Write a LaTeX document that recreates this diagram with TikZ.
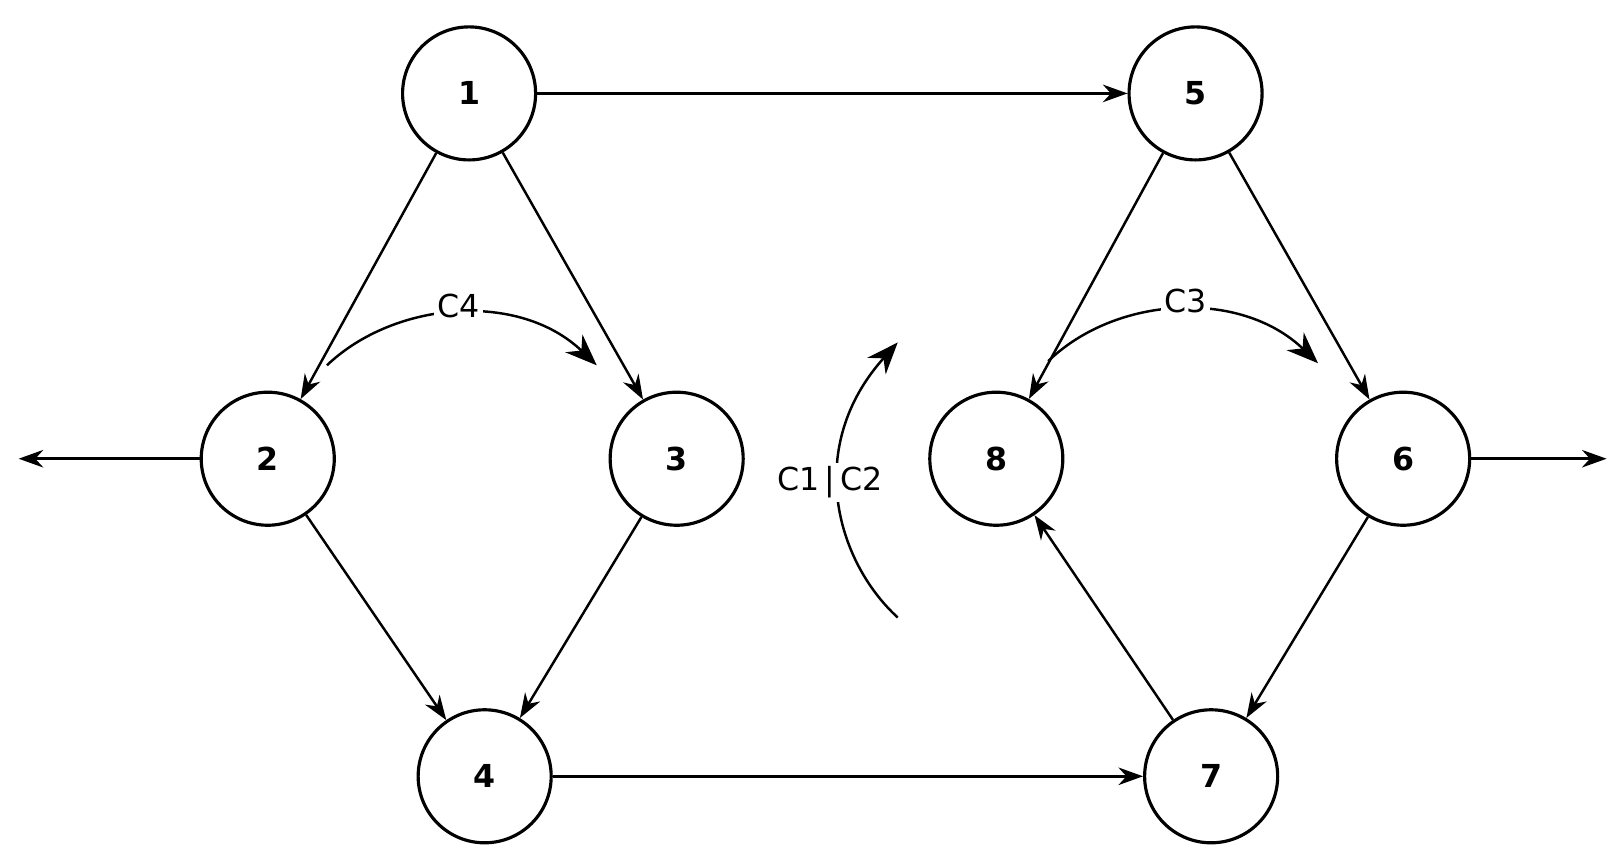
\documentclass[tikz,border=0pt]{standalone}
\usepackage{fontspec}
\setmainfont{DejaVu Sans}
\usetikzlibrary{arrows.meta}

\begin{document}
\begin{tikzpicture}[x=0.01038cm, y=-0.01038cm, font=\fontsize{9}{11}\selectfont,
    state/.style={draw, circle, line width=0.9pt, minimum size=1.33cm, inner sep=0pt, font=\fontsize{9}{11}\selectfont\bfseries},
    flow/.style={-{Stealth[length=7pt,width=5pt]}, line width=0.7pt},
    turn/.style={-{Stealth[length=9pt,width=7pt]}, line width=0.7pt}]
    \useasboundingbox (0,0) rectangle (1560,830);

    \node[state] (n1) at (452, 90) {1};
    \node[state] (n5) at (1152, 90) {5};
    \node[state] (n2) at (258, 442) {2};
    \node[state] (n3) at (652, 442) {3};
    \node[state] (n8) at (960, 442) {8};
    \node[state] (n6) at (1352, 442) {6};
    \node[state] (n4) at (467, 748) {4};
    \node[state] (n7) at (1167, 748) {7};

    \coordinate (west) at (18, 442);
    \coordinate (east) at (1548, 442);

    \draw[flow] (n1) -- (n5);
    \draw[flow] (n1) -- (n2);
    \draw[flow] (n1) -- (n3);
    \draw[flow] (n2) -- (n4);
    \draw[flow] (n3) -- (n4);
    \draw[flow] (n4) -- (n7);
    \draw[flow] (n5) -- (n8);
    \draw[flow] (n5) -- (n6);
    \draw[flow] (n6) -- (n7);
    \draw[flow] (n7) -- (n8);
    \draw[flow] (n2) -- (west);
    \draw[flow] (n6) -- (east);

    % rotation arrows
    \coordinate (c4a) at (315, 352);
    \coordinate (c4b) at (575, 352);
    \draw[turn] (c4a) .. controls (380, 290) and (500, 280) .. (c4b);
    \node[fill=white, inner sep=1pt] (c4) at (442, 295) {C4};

    \coordinate (c3a) at (1010, 348);
    \coordinate (c3b) at (1270, 350);
    \draw[turn] (c3a) .. controls (1075, 285) and (1195, 278) .. (c3b);
    \node[fill=white, inner sep=1pt] (c3) at (1142, 290) {C3};

    \coordinate (c12a) at (865, 595);
    \coordinate (c12b) at (865, 330);
    \draw[turn] (c12a) .. controls (805, 540) and (775, 430) .. (c12b);
    \node[fill=white, inner sep=1pt] (c12) at (800, 465) {C1\,|\,C2};
\end{tikzpicture}
\end{document}
